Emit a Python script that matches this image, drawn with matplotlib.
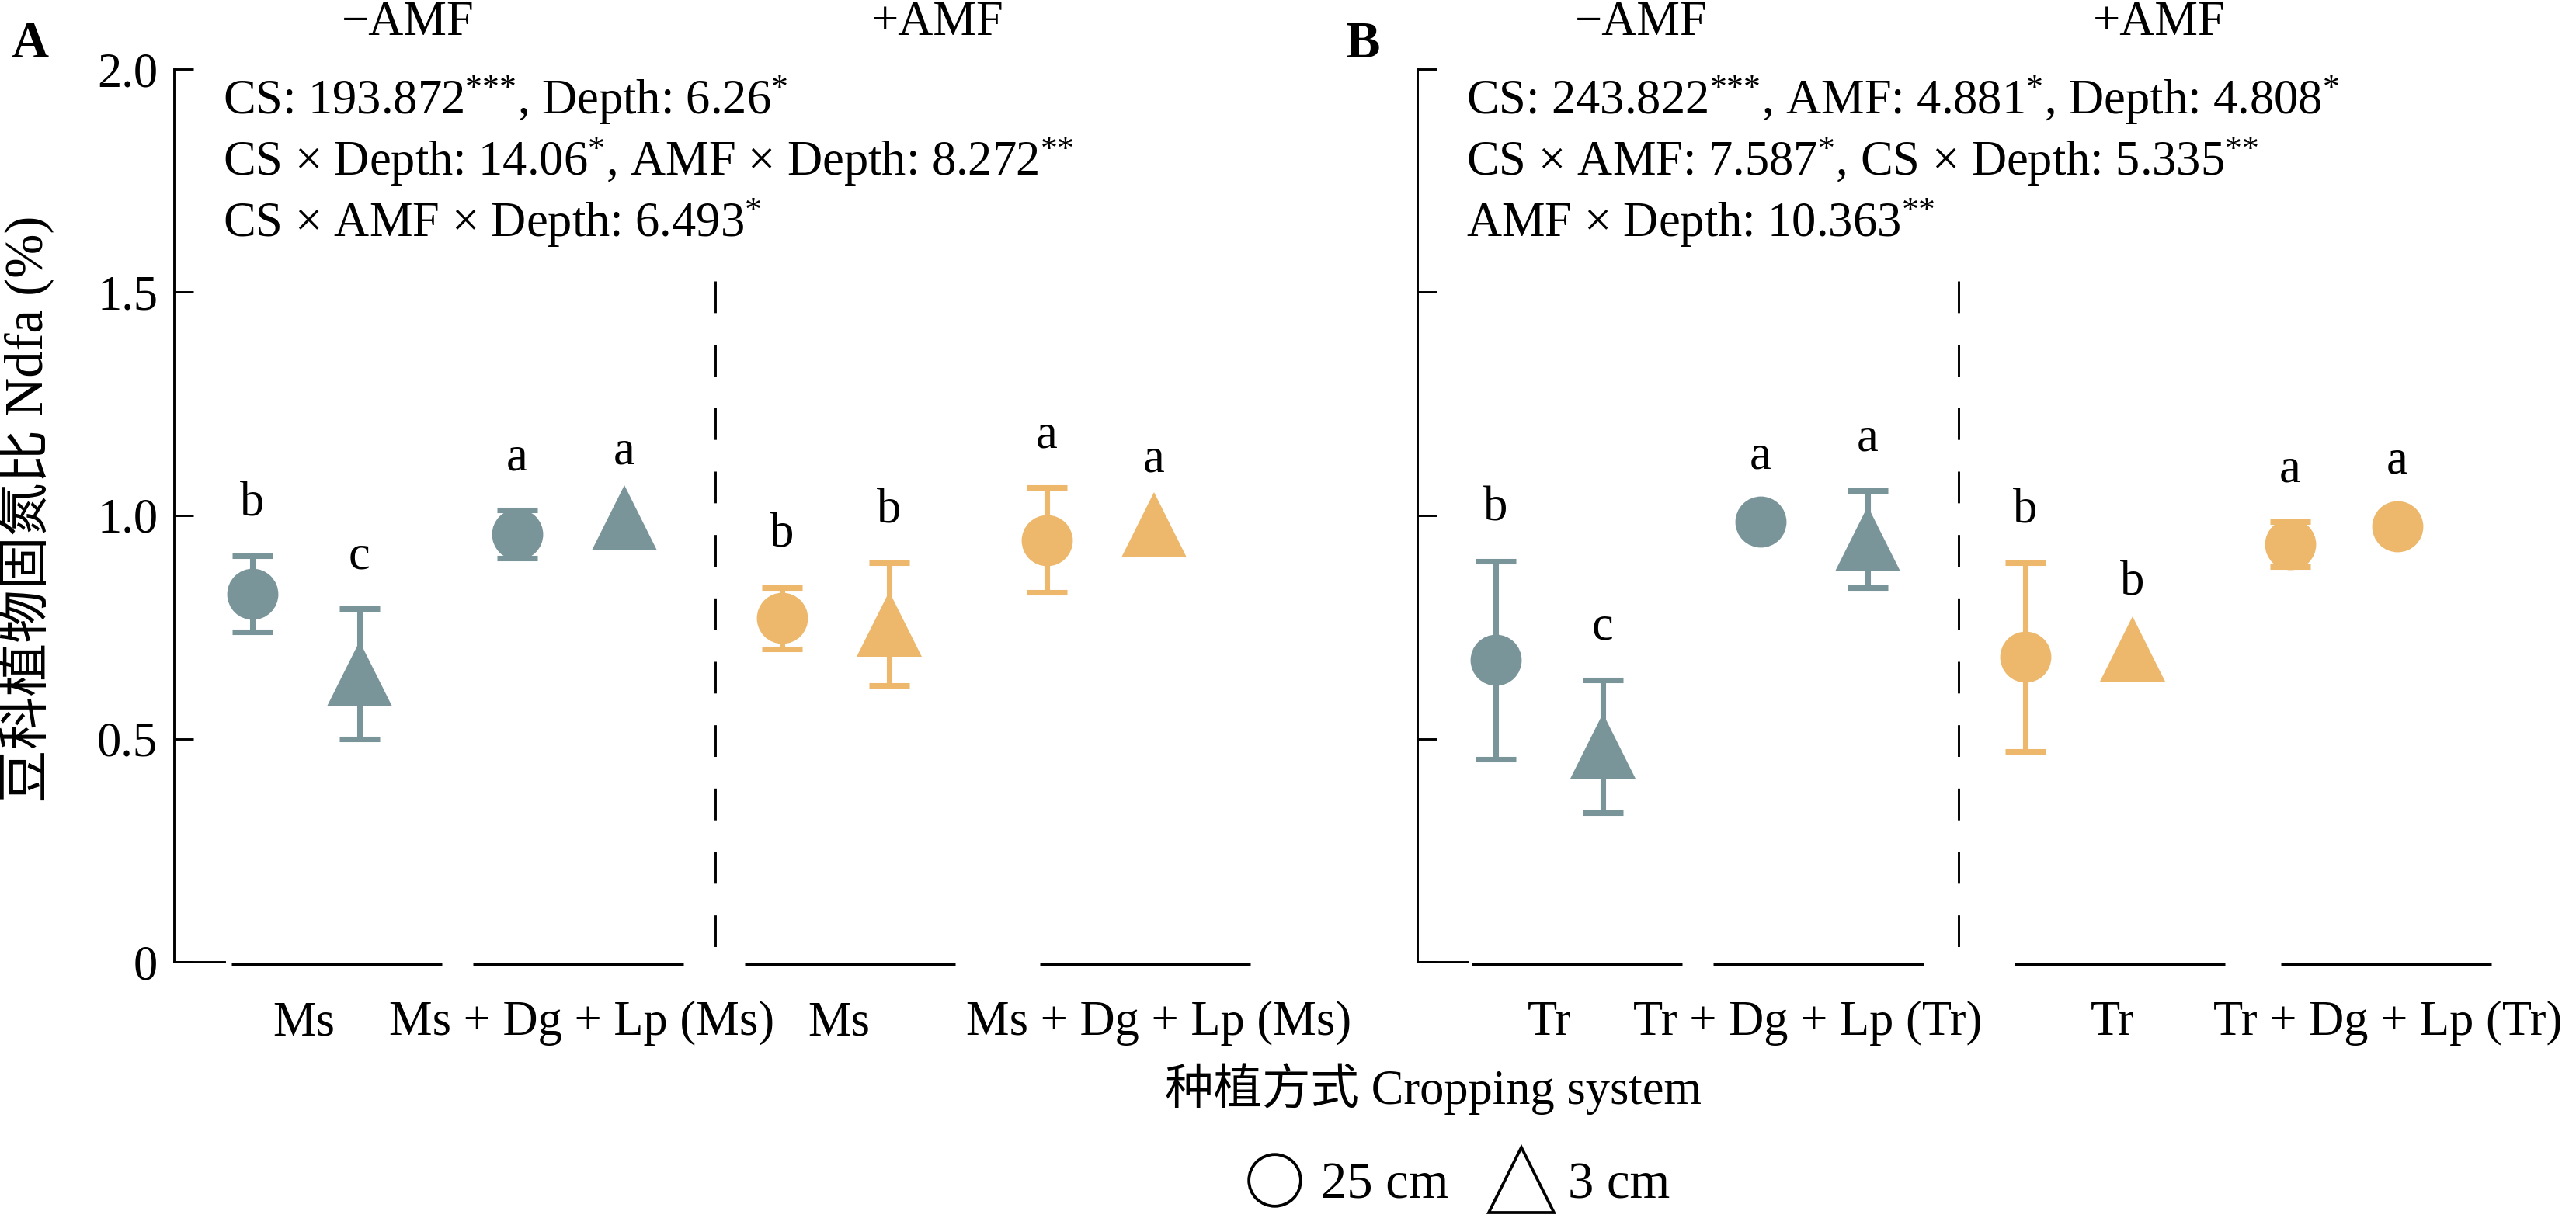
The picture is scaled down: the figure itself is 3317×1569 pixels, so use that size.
import numpy as np
import matplotlib
matplotlib.use('Agg')
import matplotlib.pyplot as plt
from matplotlib.lines import Line2D

plt.rcParams['font.family'] = ['Liberation Serif', 'Noto Sans CJK SC']
plt.rcParams['mathtext.fontset'] = 'custom'
plt.rcParams['mathtext.rm'] = 'Liberation Serif'
plt.rcParams['mathtext.default'] = 'regular'
plt.rcParams['font.size'] = 15

# data (Ndfa, %)
groups_A = ['Ms', 'Ms + Dg + Lp (Ms)', 'Ms', 'Ms + Dg + Lp (Ms)']
deep_A = [0.824, 0.958, 0.770, 0.945]          # 25 cm
deep_err_A = [0.085, 0.054, 0.069, 0.117]
shallow_A = [0.645, 0.995, 0.757, 0.979]       # 3 cm
shallow_err_A = [0.146, 0.0, 0.137, 0.0]
deep_let_A = ['b', 'a', 'b', 'a']
shallow_let_A = ['c', 'a', 'b', 'a']

groups_B = ['Tr', 'Tr + Dg + Lp (Tr)', 'Tr', 'Tr + Dg + Lp (Tr)']
deep_B = [0.676, 0.986, 0.683, 0.936]
deep_err_B = [0.222, 0.0, 0.211, 0.05]
shallow_B = [0.483, 0.947, 0.701, 0.975]
shallow_err_B = [0.149, 0.109, 0.0, 0.0]
deep_let_B = ['b', 'a', 'b', 'a']
shallow_let_B = ['c', 'a', 'b', 'a']
shallow_marker_B = ['^', '^', '^', 'o']   # last one is a circle in the original

amf = ['\u2212AMF', '+AMF']

s1, s2, s3 = '$^{{*}}$', '$^{{*}{*}}$', '$^{{*}{*}{*}}$'
stats_A = ['CS: 193.872' + s3 + ', Depth: 6.26' + s1,
           'CS × Depth: 14.06' + s1 + ', AMF × Depth: 8.272' + s2,
           'CS × AMF × Depth: 6.493' + s1]
stats_B = ['CS: 243.822' + s3 + ', AMF: 4.881' + s1 + ', Depth: 4.808' + s1,
           'CS × AMF: 7.587' + s1 + ', CS × Depth: 5.335' + s2,
           'AMF × Depth: 10.363' + s2]

grey = '#7A9599'
orange = '#EDB86B'
colors = [grey, grey, orange, orange]

W, H = 3317, 1569
fig = plt.figure(figsize=(W / 300, H / 300), dpi=300)


def panel(left, deep, deep_err, shallow, shallow_err, dlet, slet, smarkers,
          names, label_pos, seg_start, heads, stats, show_labels):
    ax = fig.add_axes([left / W, 1 - 1239 / H, 4.1 * 341 / W, 1150 / H])
    ax.set_xlim(0, 4.1)
    ax.set_ylim(0, 2.0)
    for s in ['top', 'right']:
        ax.spines[s].set_visible(False)
    ax.spines['left'].set_linewidth(0.7)
    ax.spines['bottom'].set_linewidth(0.7)
    ax.spines['bottom'].set_bounds(0, 0.19)
    ax.set_yticks([0, 0.5, 1.0, 1.5, 2.0])
    ax.set_yticklabels(['0', '0.5', '1.0', '1.5', '2.0'])
    ax.tick_params(axis='y', direction='in', length=6, width=0.7, pad=5,
                   labelleft=show_labels)
    ax.set_xticks(label_pos)
    ax.set_xticklabels(names)
    ax.tick_params(axis='x', length=0, pad=12)

    x = np.arange(4)
    xd = x + 0.296
    xs = x + 0.70
    for i in range(4):
        c = colors[i]
        if deep_err[i] > 0:
            ax.errorbar(xd[i], deep[i], yerr=deep_err[i], fmt='none', ecolor=c,
                        elinewidth=1.7, capsize=6.3, capthick=1.7, zorder=2)
        ax.plot(xd[i], deep[i], marker='o', ms=15.8, color=c, mew=0, zorder=3)
        if shallow_err[i] > 0:
            ax.errorbar(xs[i], shallow[i], yerr=shallow_err[i], fmt='none', ecolor=c,
                        elinewidth=1.7, capsize=6.3, capthick=1.7, zorder=2)
        m = smarkers[i]
        ax.plot(xs[i], shallow[i], marker=m, ms=20 if m == '^' else 15.8,
                color=c, mew=0, zorder=3)
        ax.text(xd[i], deep[i] + max(deep_err[i] + 0.09, 0.12), dlet[i],
                ha='center', va='baseline')
        ax.text(xs[i], shallow[i] + max(shallow_err[i] + 0.09, 0.12), slet[i],
                ha='center', va='baseline')
        ax.plot([seg_start[i], seg_start[i] + 0.795], [-0.006, -0.006],
                color='black', lw=1.1, clip_on=False, solid_capstyle='butt')

    ax.plot([2.045, 2.045], [1.525, 0.0], color='black', lw=0.7,
            dashes=(14, 14), clip_on=False)

    ax.text(heads[0], 2.077, amf[0], ha='center', va='baseline')
    ax.text(heads[1], 2.077, amf[1], ha='center', va='baseline')
    for k, line in enumerate(stats):
        ax.text(0.186, 1.93 - 0.137 * k, line, ha='left', va='center')
    return ax


panel(224, deep_A, deep_err_A, shallow_A, shallow_err_A, deep_let_A, shallow_let_A,
      ['^'] * 4, groups_A, [0.49, 1.54, 2.51, 3.72], [0.217, 1.129, 2.155, 3.27],
      [0.883, 2.883], stats_A, True)
panel(1825, deep_B, deep_err_B, shallow_B, shallow_err_B, deep_let_B, shallow_let_B,
      shallow_marker_B, groups_B, [0.50, 1.475, 2.625, 3.666], [0.205, 1.117, 2.255, 3.26],
      [0.845, 2.80], stats_B, False)

fig.text(38 / W, 1 - 57 / H, 'A', fontsize=16, fontweight='bold', ha='center', va='center')
fig.text(1755 / W, 1 - 57 / H, 'B', fontsize=16, fontweight='bold', ha='center', va='center')

fig.text(33 / W, 1 - 656 / H, '豆科植物固氮比 Ndfa (%)', rotation=90,
         ha='center', va='center', fontsize=16.5)
fig.text(1846 / W, 1 - 1403 / H, '种植方式 Cropping system', ha='center', va='center')

handles = [Line2D([], [], marker='o', ls='none', ms=16, mfc='none', mec='black', mew=0.9),
           Line2D([], [], marker='^', ls='none', ms=20, mfc='none', mec='black', mew=0.9)]
fig.legend(handles, ['25 cm', '3 cm'], loc='center', bbox_to_anchor=(1876 / W, 1 - 1527 / H),
           ncol=2, frameon=False, fontsize=16, handletextpad=0.3, columnspacing=0.8,
           handlelength=1.2, borderpad=0)

fig.savefig('out.png', dpi=300)
